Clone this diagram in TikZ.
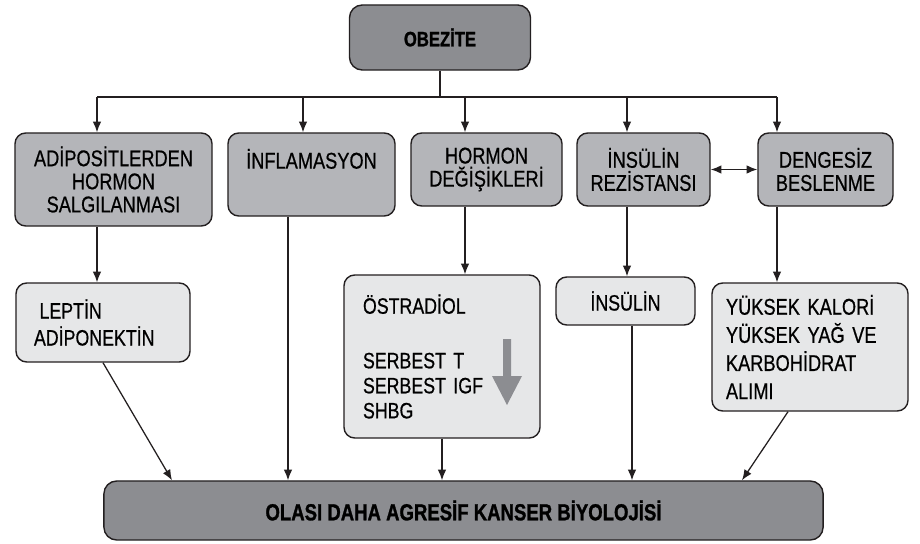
\documentclass[tikz,border=0pt]{standalone}
\usepackage{fontspec}
\setmainfont{Liberation Sans}[FakeStretch=0.8,UprightFeatures={FakeBold=0.6},BoldFeatures={FakeBold=1.2}]
\usetikzlibrary{arrows.meta}

\definecolor{boxdark}{HTML}{8C8D91}
\definecolor{boxmid}{HTML}{B4B5B9}
\definecolor{boxlight}{HTML}{E6E7E8}
\definecolor{edge}{HTML}{231F20}

\begin{document}
\begin{tikzpicture}[x=0.025cm,y=-0.025cm,
  >={Latex[length=7.5pt,width=6pt]},
  every node/.style={font=\fontsize{16.2}{16.4}\selectfont},
  mainbox/.style={rectangle,draw=edge,line width=1pt,rounded corners=0.32cm,fill=boxdark,font=\fontsize{14.8}{18}\selectfont\bfseries},
  cause/.style={rectangle,draw=edge,line width=1pt,rounded corners=0.27cm,fill=boxmid,align=center},
  effect/.style={rectangle,draw=edge,line width=1pt,rounded corners=0.27cm,fill=boxlight,align=left,font=\fontsize{15.8}{19.2}\selectfont},
  link/.style={draw=edge,line width=0.9pt},
  arr/.style={link,->}
]
\useasboundingbox (0,0) rectangle (920,544);

% top
\node[mainbox,minimum width=4.525cm,minimum height=1.625cm] (obez) at (440,37.5) {OBEZİTE};

% first row
\node[cause,minimum width=4.925cm,minimum height=2.325cm] (adipo) at (113.5,179.5) {ADİPOSİTLERDEN\\HORMON\\SALGILANMASI};
\node[cause,minimum width=4.175cm,minimum height=2.075cm] (inflam) at (311.5,174.5) {İNFLAMASYON\\[6pt]};
\node[cause,minimum width=3.775cm,minimum height=1.825cm] (hormon) at (486.5,169.5) {HORMON\\DEĞİŞİKLERİ};
\node[cause,minimum width=3.325cm,minimum height=1.825cm] (insrez) at (643.5,169.5) {İNSÜLİN\\REZİSTANSI};
\node[cause,minimum width=3.375cm,minimum height=1.825cm] (deng) at (825.5,169.5) {DENGESİZ\\BESLENME};

% second row
\node[effect,text width=3.45cm,inner xsep=0.45cm,minimum height=1.975cm] (leptin) at (103,322.5) {\hspace*{0.25em}LEPTİN\\ADİPONEKTİN};
\node[effect,text width=3.95cm,inner xsep=0.475cm,minimum height=4.075cm,font=\fontsize{15.8}{17.8}\selectfont] (ostr) at (442,356.5) {ÖSTRADİOL\\[21pt]SERBEST T\\SERBEST IGF\\SHBG};
\node[effect,align=center,minimum width=3.475cm,minimum height=1.2cm] (insulin) at (625.5,301) {İNSÜLİN};
\node[effect,text width=4.2cm,inner xsep=0.35cm,minimum height=3.2cm,font=\fontsize{16.2}{20}\selectfont] (yuksek) at (810,347) {YÜKSEK KALORİ\\YÜKSEK YAĞ VE\\KARBOHİDRAT\\ALIMI};

% bottom
\node[mainbox,minimum width=17.975cm,minimum height=1.475cm,font=\fontsize{16.5}{18}\selectfont\bfseries] (cancer) at (463.5,510.5) {OLASI DAHA AGRESİF KANSER BİYOLOJİSİ};

% down arrow in ostr
\fill[boxdark] (503,339) -- (511,339) -- (511,376) -- (522,376) -- (507,405) -- (492,376) -- (503,376) -- cycle;

% bus from obezite
\coordinate (busL) at (97,97);
\coordinate (busR) at (777,97);
\draw[link] (obez.south) -- (obez.south |- busL);
\draw[link] (busL) -- (busR);
\foreach \n/\x in {adipo/97,inflam/303,hormon/465,insrez/627,deng/777}{
  \coordinate (b\n) at (\x,97);
  \draw[arr] (b\n) -- (b\n |- \n.north);
}

% first row to second row
\draw[arr] (badipo |- adipo.south) -- (badipo |- leptin.north);
\draw[arr] (bhormon |- hormon.south) -- (bhormon |- ostr.north);
\draw[arr] (binsrez |- insrez.south) -- (binsrez |- insulin.north);
\draw[arr] (bdeng |- deng.south) -- (bdeng |- yuksek.north);
\draw[<->,link] (insrez.east) -- (deng.west);

% into the bottom box
\coordinate (xlep) at (172,0);
\coordinate (xinf) at (288,0);
\coordinate (xins) at (632,0);
\coordinate (yyuk) at (788,0);
\coordinate (xyuk) at (742,0);
\draw[arr] (leptin.south) -- (xlep |- cancer.north);
\draw[arr] (xinf |- inflam.south) -- (xinf |- cancer.north);
\draw[arr] (ostr.south) -- (ostr.south |- cancer.north);
\draw[arr] (xins |- insulin.south) -- (xins |- cancer.north);
\draw[arr] (yyuk |- yuksek.south) -- (xyuk |- cancer.north);
\end{tikzpicture}
\end{document}
